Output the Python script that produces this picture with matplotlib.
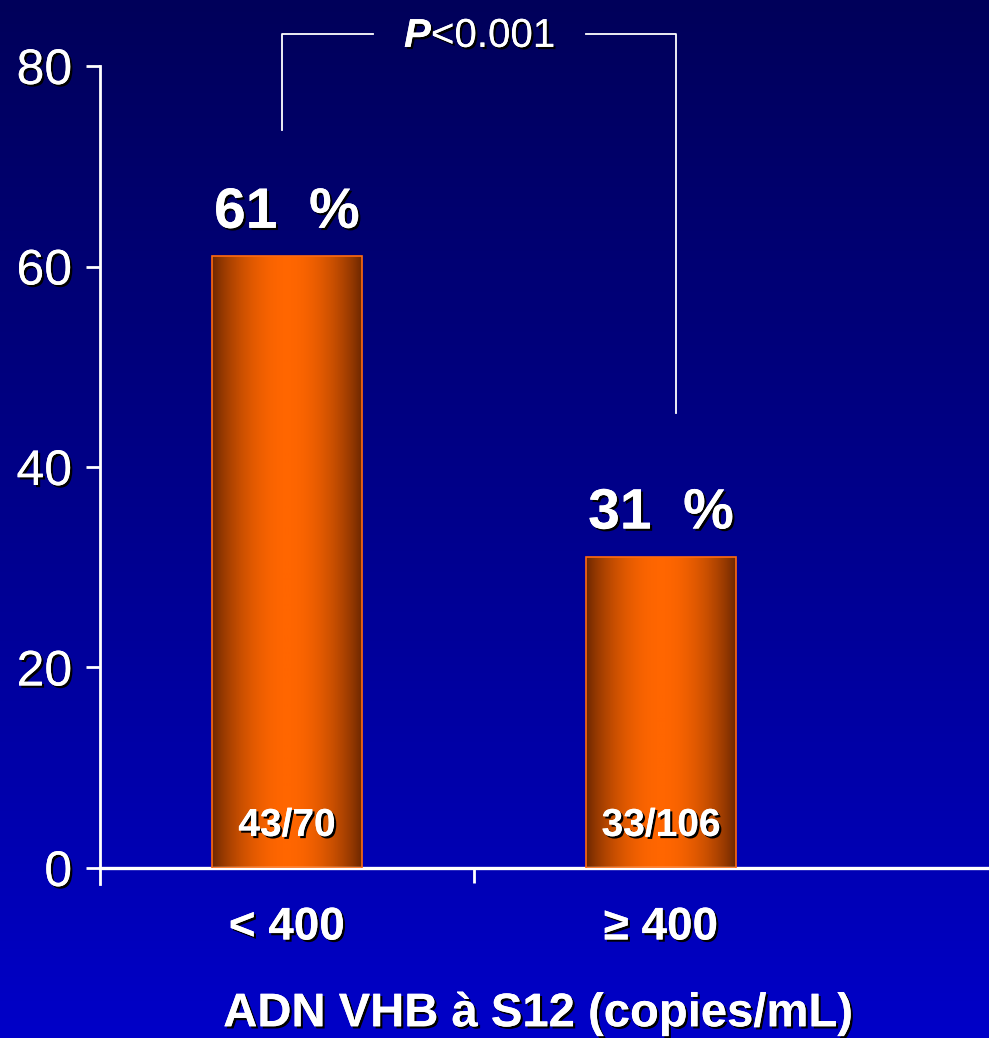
import numpy as np
import matplotlib
matplotlib.use("Agg")
import matplotlib.pyplot as plt
from matplotlib import patheffects
from matplotlib.colors import LinearSegmentedColormap

# response rates by HBV DNA level at week 12
categories = ["< 400", "\u2265 400"]
rates = [61, 31]
counts = ["43/70", "33/106"]
p_text = r"$\mathit{P}$<0.001"
xlabel = "ADN VHB \u00e0 S12 (copies/mL)"
yticks = [0, 20, 40, 60, 80]

plt.rcParams["font.family"] = ["Liberation Sans", "DejaVu Sans"]
plt.rcParams["mathtext.fontset"] = "custom"
plt.rcParams["mathtext.it"] = "Liberation Sans:italic:bold"
plt.rcParams["mathtext.rm"] = "Liberation Sans"
shadow = [patheffects.withSimplePatchShadow(offset=(1.6, -1.6), shadow_rgbFace="black", alpha=1.0),
          patheffects.Normal()]

fig = plt.figure(figsize=(9.89, 10.38), dpi=100)

# vertical blue backdrop, dark navy at the top to royal blue at the bottom
bg = fig.add_axes([0, 0, 1, 1], zorder=0)
bg_cmap = LinearSegmentedColormap.from_list("bg", ["#00005a", "#00008c", "#0000c8"])
bg.imshow(np.linspace(0, 1, 256)[:, None], aspect="auto", cmap=bg_cmap, extent=[0, 1, 0, 1])
bg.set_axis_off()

ax = fig.add_axes([0.1011, 0.1638, 0.899, 0.7726], zorder=1)
ax.patch.set_alpha(0)

# orange bars with a horizontal shading
bar_cmap = LinearSegmentedColormap.from_list("bar", ["#6a2600", "#ff6600"])
t = np.linspace(0, 1, 200)
shade = np.sin(np.pi * t) ** 0.8
width = 0.40
x = np.arange(len(categories))
bars = ax.bar(x, rates, width=width, color="none", edgecolor="#ff6a10", linewidth=1.2, zorder=3)
for bar in bars:
    x0, y0 = bar.get_x(), bar.get_y()
    im = ax.imshow(shade[None, :], aspect="auto", cmap=bar_cmap, vmin=0, vmax=1,
                   extent=[x0, x0 + bar.get_width(), y0, y0 + bar.get_height()], zorder=2)
    im.set_clip_path(bar)
ax.set_xlim(-0.5, 1.877)
ax.set_ylim(0, 80)

for xi, r, c in zip(x, rates, counts):
    ax.annotate(f"{r}  %", (xi, r), xytext=(0, 12), textcoords="offset points",
                ha="center", va="bottom", fontsize=41, fontweight="bold", color="white",
                path_effects=shadow, zorder=5)
    ax.text(xi, 2.4, c, ha="center", va="bottom", fontsize=28, fontweight="bold",
            color="white", path_effects=shadow, zorder=5)

# significance bracket
ax.plot([-0.013, -0.013, 0.23], [73.6, 83.2, 83.2], color="white", lw=1.3, clip_on=False, zorder=4)
ax.plot([0.80, 1.04, 1.04], [83.2, 83.2, 45.4], color="white", lw=1.3, clip_on=False, zorder=4)
ax.text(0.515, 83.0, p_text, ha="center", va="center", fontsize=29, color="white",
        path_effects=shadow, clip_on=False, zorder=5)

# axes styling
for side in ["top", "right"]:
    ax.spines[side].set_visible(False)
ax.spines["left"].set_color("white")
ax.spines["left"].set_linewidth(2)
ax.spines["left"].set_bounds(-1.6, 80)
ax.spines["bottom"].set_color("white")
ax.spines["bottom"].set_linewidth(2.4)

ax.set_yticks(yticks)
ax.set_yticklabels([str(v) for v in yticks])
ax.tick_params(axis="y", colors="white", length=10, width=2, pad=10, labelsize=36)
for lbl in ax.get_yticklabels():
    lbl.set_path_effects(shadow)

ax.set_xticks([0.5])
ax.set_xticklabels([""])
ax.tick_params(axis="x", which="major", colors="white", length=11, width=2)
ax.set_xticks(x, minor=True)
ax.set_xticklabels(categories, minor=True)
ax.tick_params(axis="x", which="minor", length=0, pad=27, labelsize=33, labelcolor="white")
for lbl in ax.get_xticklabels(minor=True):
    lbl.set_fontweight("bold")
    lbl.set_path_effects(shadow)

ax.set_xlabel(xlabel, fontsize=34, fontweight="bold", color="white", path_effects=shadow)
ax.xaxis.set_label_coords(0.493, -0.155)

fig.savefig("out.png", dpi=100)
